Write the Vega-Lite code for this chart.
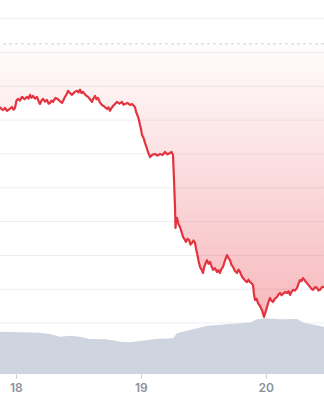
{
  "$schema": "https://vega.github.io/schema/vega-lite/v6.json",
  "width": 324,
  "height": 374,
  "autosize": {"type": "none"},
  "padding": {"left": 0, "top": 0, "right": 0, "bottom": 26},
  "background": "white",
  "config": {"view": {"stroke": null}},
  "datasets": {
    "price": [
      {"day": 17.874, "price": 839}, {"day": 17.886, "price": 833}, {"day": 17.898, "price": 830},
      {"day": 17.914, "price": 836}, {"day": 17.930, "price": 828}, {"day": 17.950, "price": 833},
      {"day": 17.970, "price": 839}, {"day": 17.982, "price": 831}, {"day": 17.994, "price": 836},
      {"day": 18.006, "price": 858}, {"day": 18.018, "price": 863}, {"day": 18.034, "price": 858},
      {"day": 18.050, "price": 869}, {"day": 18.070, "price": 862}, {"day": 18.090, "price": 869},
      {"day": 18.102, "price": 864}, {"day": 18.114, "price": 875}, {"day": 18.126, "price": 866},
      {"day": 18.138, "price": 872}, {"day": 18.154, "price": 864}, {"day": 18.170, "price": 869},
      {"day": 18.182, "price": 857}, {"day": 18.194, "price": 848}, {"day": 18.206, "price": 858},
      {"day": 18.218, "price": 863}, {"day": 18.234, "price": 855}, {"day": 18.250, "price": 860},
      {"day": 18.262, "price": 849}, {"day": 18.274, "price": 851}, {"day": 18.286, "price": 858},
      {"day": 18.298, "price": 854}, {"day": 18.318, "price": 866}, {"day": 18.338, "price": 862},
      {"day": 18.354, "price": 856}, {"day": 18.370, "price": 851}, {"day": 18.382, "price": 860},
      {"day": 18.394, "price": 869}, {"day": 18.406, "price": 876}, {"day": 18.418, "price": 887},
      {"day": 18.434, "price": 880}, {"day": 18.450, "price": 875}, {"day": 18.470, "price": 883},
      {"day": 18.490, "price": 887}, {"day": 18.502, "price": 882}, {"day": 18.514, "price": 890},
      {"day": 18.526, "price": 880}, {"day": 18.538, "price": 884}, {"day": 18.558, "price": 874},
      {"day": 18.578, "price": 869}, {"day": 18.594, "price": 862}, {"day": 18.610, "price": 854},
      {"day": 18.622, "price": 865}, {"day": 18.634, "price": 872}, {"day": 18.646, "price": 862},
      {"day": 18.658, "price": 866}, {"day": 18.674, "price": 852}, {"day": 18.690, "price": 845},
      {"day": 18.710, "price": 840}, {"day": 18.730, "price": 833}, {"day": 18.742, "price": 838},
      {"day": 18.754, "price": 828}, {"day": 18.766, "price": 836}, {"day": 18.778, "price": 842},
      {"day": 18.794, "price": 848}, {"day": 18.810, "price": 854}, {"day": 18.830, "price": 849},
      {"day": 18.850, "price": 854}, {"day": 18.862, "price": 846}, {"day": 18.874, "price": 848},
      {"day": 18.894, "price": 851}, {"day": 18.914, "price": 845}, {"day": 18.930, "price": 848},
      {"day": 18.946, "price": 842}, {"day": 18.954, "price": 838}, {"day": 18.962, "price": 825},
      {"day": 18.970, "price": 818}, {"day": 18.978, "price": 810}, {"day": 18.986, "price": 800},
      {"day": 18.994, "price": 786}, {"day": 19.002, "price": 774}, {"day": 19.010, "price": 756},
      {"day": 19.022, "price": 748}, {"day": 19.034, "price": 733}, {"day": 19.046, "price": 720},
      {"day": 19.058, "price": 706}, {"day": 19.066, "price": 699}, {"day": 19.074, "price": 691},
      {"day": 19.094, "price": 698}, {"day": 19.114, "price": 700}, {"day": 19.134, "price": 695},
      {"day": 19.154, "price": 700}, {"day": 19.174, "price": 697}, {"day": 19.194, "price": 706},
      {"day": 19.214, "price": 699}, {"day": 19.234, "price": 703}, {"day": 19.246, "price": 706},
      {"day": 19.258, "price": 697}, {"day": 19.266, "price": 623}, {"day": 19.274, "price": 543},
      {"day": 19.278, "price": 481}, {"day": 19.284, "price": 505}, {"day": 19.290, "price": 511},
      {"day": 19.302, "price": 492}, {"day": 19.314, "price": 484}, {"day": 19.326, "price": 470},
      {"day": 19.338, "price": 455}, {"day": 19.350, "price": 448}, {"day": 19.362, "price": 440},
      {"day": 19.374, "price": 449}, {"day": 19.386, "price": 446}, {"day": 19.398, "price": 432},
      {"day": 19.410, "price": 437}, {"day": 19.422, "price": 444}, {"day": 19.434, "price": 437},
      {"day": 19.442, "price": 420}, {"day": 19.450, "price": 407}, {"day": 19.462, "price": 385},
      {"day": 19.474, "price": 366}, {"day": 19.486, "price": 358}, {"day": 19.498, "price": 348},
      {"day": 19.506, "price": 364}, {"day": 19.514, "price": 372}, {"day": 19.522, "price": 380},
      {"day": 19.530, "price": 386}, {"day": 19.542, "price": 375}, {"day": 19.554, "price": 381},
      {"day": 19.566, "price": 368}, {"day": 19.578, "price": 357}, {"day": 19.594, "price": 362},
      {"day": 19.610, "price": 351}, {"day": 19.622, "price": 356}, {"day": 19.634, "price": 348},
      {"day": 19.646, "price": 360}, {"day": 19.658, "price": 366}, {"day": 19.674, "price": 385},
      {"day": 19.690, "price": 401}, {"day": 19.702, "price": 392}, {"day": 19.714, "price": 386},
      {"day": 19.726, "price": 372}, {"day": 19.738, "price": 366}, {"day": 19.754, "price": 354},
      {"day": 19.770, "price": 348}, {"day": 19.782, "price": 358}, {"day": 19.794, "price": 351},
      {"day": 19.806, "price": 340}, {"day": 19.818, "price": 333}, {"day": 19.834, "price": 326},
      {"day": 19.850, "price": 321}, {"day": 19.862, "price": 328}, {"day": 19.874, "price": 321},
      {"day": 19.886, "price": 318}, {"day": 19.898, "price": 312}, {"day": 19.906, "price": 285},
      {"day": 19.914, "price": 268}, {"day": 19.926, "price": 272}, {"day": 19.938, "price": 259},
      {"day": 19.954, "price": 250}, {"day": 19.970, "price": 238}, {"day": 19.978, "price": 228},
      {"day": 19.986, "price": 218}, {"day": 19.998, "price": 232}, {"day": 20.010, "price": 247},
      {"day": 20.022, "price": 262}, {"day": 20.034, "price": 274}, {"day": 20.046, "price": 266},
      {"day": 20.058, "price": 262}, {"day": 20.074, "price": 272}, {"day": 20.090, "price": 277},
      {"day": 20.102, "price": 284}, {"day": 20.114, "price": 289}, {"day": 20.126, "price": 282},
      {"day": 20.138, "price": 286}, {"day": 20.154, "price": 292}, {"day": 20.170, "price": 289},
      {"day": 20.182, "price": 294}, {"day": 20.194, "price": 283}, {"day": 20.206, "price": 292},
      {"day": 20.218, "price": 298}, {"day": 20.234, "price": 296}, {"day": 20.250, "price": 304},
      {"day": 20.262, "price": 316}, {"day": 20.274, "price": 327}, {"day": 20.286, "price": 324},
      {"day": 20.298, "price": 333}, {"day": 20.314, "price": 325}, {"day": 20.330, "price": 318},
      {"day": 20.342, "price": 312}, {"day": 20.354, "price": 307}, {"day": 20.366, "price": 301},
      {"day": 20.378, "price": 298}, {"day": 20.394, "price": 306}, {"day": 20.410, "price": 304},
      {"day": 20.422, "price": 296}, {"day": 20.434, "price": 298}, {"day": 20.450, "price": 306},
      {"day": 20.466, "price": 307}
    ],
    "volume": [
      {"day": 17.874, "volume": 22.6}, {"day": 18.194, "volume": 22.1}, {"day": 18.274, "volume": 21.4},
      {"day": 18.354, "volume": 19.9}, {"day": 18.434, "volume": 20.5}, {"day": 18.514, "volume": 19.9},
      {"day": 18.594, "volume": 18.7}, {"day": 18.730, "volume": 18.6}, {"day": 18.834, "volume": 17.3},
      {"day": 18.914, "volume": 17.0}, {"day": 18.994, "volume": 17.6}, {"day": 19.114, "volume": 18.7},
      {"day": 19.258, "volume": 19.1}, {"day": 19.290, "volume": 21.8}, {"day": 19.418, "volume": 23.9},
      {"day": 19.530, "volume": 25.8}, {"day": 19.794, "volume": 27.1}, {"day": 19.874, "volume": 27.6},
      {"day": 19.930, "volume": 29.3}, {"day": 19.994, "volume": 29.8}, {"day": 20.114, "volume": 29.3},
      {"day": 20.250, "volume": 29.4}, {"day": 20.298, "volume": 27.6}, {"day": 20.394, "volume": 26.2},
      {"day": 20.466, "volume": 25.3}
    ],
    "grid": [
      {"value": 100}, {"value": 200}, {"value": 300}, {"value": 400}, {"value": 500}, {"value": 600},
      {"value": 700}, {"value": 800}, {"value": 900}, {"value": 1000}, {"value": 1100}
    ],
    "ref": [{"value": 1026}]
  },
  "layer": [
    {
      "layer": [
        {
          "data": {"name": "grid"},
          "mark": {"type": "rule", "color": "#eceef2", "strokeWidth": 1},
          "encoding": {
            "y": {
              "field": "value", "type": "quantitative",
              "scale": {"domain": [49.1, 1155.6], "nice": false, "zero": false},
              "axis": null
            }
          }
        },
        {
          "data": {"name": "price"},
          "mark": {
            "type": "area",
            "clip": true,
            "color": {
              "gradient": "linear",
              "x1": 0, "y1": 0, "x2": 0, "y2": 1,
              "stops": [
                {"offset": 0, "color": "rgba(232,50,62,0.01)"},
                {"offset": 1, "color": "rgba(232,50,62,0.34)"}
              ]
            }
          },
          "encoding": {
            "x": {
              "field": "day", "type": "quantitative",
              "scale": {"domain": [17.874, 20.466], "nice": false, "zero": false},
              "axis": {
                "values": [18, 19, 20], "format": "d", "title": null,
                "domain": false, "grid": false,
                "tickColor": "#c8ccd4", "tickSize": 4,
                "labelFont": "Inter", "labelFontWeight": 600, "labelFontSize": 12,
                "labelColor": "#8c919d", "labelPadding": 4
              }
            },
            "y": {"field": "price", "type": "quantitative"},
            "y2": {"datum": 1026}
          }
        },
        {
          "data": {"name": "price"},
          "mark": {"type": "line", "color": "#e4333f", "strokeWidth": 2.2, "clip": true, "strokeJoin": "round"},
          "encoding": {
            "x": {"field": "day", "type": "quantitative"},
            "y": {"field": "price", "type": "quantitative"}
          }
        },
        {
          "data": {"name": "ref"},
          "mark": {"type": "rule", "color": "#cfd2d8", "strokeWidth": 1, "strokeDash": [3, 3]},
          "encoding": {
            "y": {"field": "value", "type": "quantitative"}
          }
        }
      ]
    },
    {
      "data": {"name": "volume"},
      "mark": {"type": "area", "color": "#cfd5e0", "opacity": 1, "clip": true},
      "encoding": {
        "x": {"field": "day", "type": "quantitative"},
        "y": {
          "field": "volume", "type": "quantitative",
          "scale": {"domain": [0, 200], "nice": false},
          "axis": null
        }
      }
    }
  ],
  "resolve": {"scale": {"y": "independent"}}
}
